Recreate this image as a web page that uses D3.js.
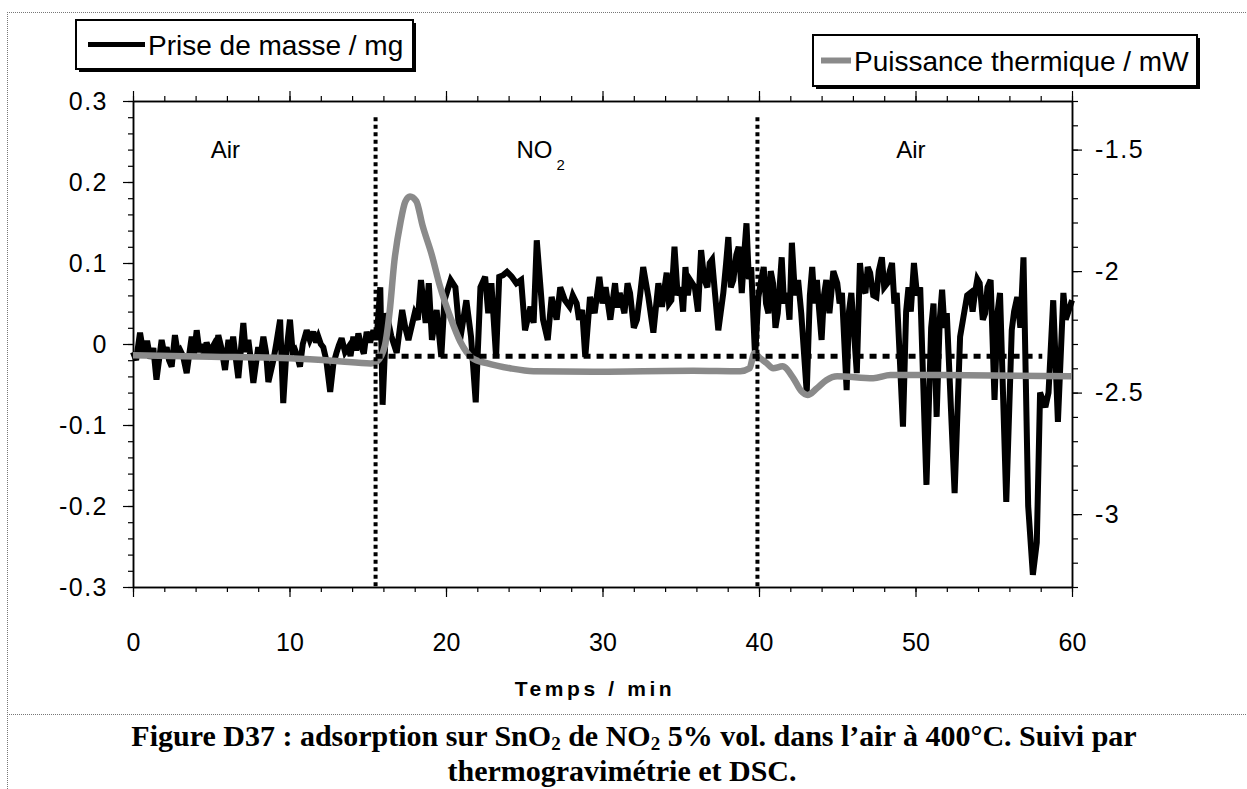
<!DOCTYPE html>
<html>
<head>
<meta charset="utf-8">
<script src="https://cdn.jsdelivr.net/npm/d3@7"></script>
<style>
body { margin: 0; background: #fff; }
svg { display: block; }
</style>
</head>
<body>
<svg id="chart" width="1247" height="789" font-family='"Liberation Sans", Arial, sans-serif'></svg>
<script>
// mass gain (left axis, mg): [time min, value]
const massSeries = [
  [0.0,-0.010],[0.2,-0.020],[0.45,0.014],[0.7,-0.015],[0.9,0.004],[1.1,-0.018],[1.3,-0.005],[1.5,-0.044],
  [1.83,0.005],[2.0,-0.012],[2.15,-0.004],[2.3,-0.020],[2.47,-0.028],[2.68,0.011],[2.85,-0.010],[3.0,-0.007],
  [3.2,-0.015],[3.43,-0.036],[3.75,0.009],[3.9,-0.012],[4.07,0.017],[4.25,-0.010],[4.4,0.000],[4.55,-0.015],
  [4.7,0.002],[4.9,-0.010],[5.13,-0.002],[5.3,-0.018],[5.45,0.011],[5.65,-0.005],[5.88,-0.032],[6.1,0.005],
  [6.25,-0.012],[6.4,0.009],[6.55,-0.015],[6.73,-0.042],[7.05,0.026],[7.2,-0.010],[7.37,0.005],[7.52,-0.018],
  [7.69,-0.048],[8.0,-0.004],[8.15,-0.015],[8.33,0.009],[8.5,-0.010],[8.65,-0.047],[8.97,-0.020],[9.15,0.000],
  [9.4,0.030],[9.6,-0.073],[9.8,-0.010],[10.03,0.030],[10.2,-0.010],[10.35,-0.007],[10.5,-0.015],[10.67,-0.028],
  [10.85,0.000],[11.1,0.017],[11.3,0.005],[11.52,0.015],[11.7,0.002],[11.84,0.009],[12.0,0.000],[12.16,-0.004],
  [12.35,-0.020],[12.6,-0.059],[12.8,-0.025],[13.0,-0.011],[13.15,-0.002],[13.33,0.007],[13.55,-0.010],[13.76,-0.004],
  [13.9,-0.015],[14.08,0.009],[14.25,-0.008],[14.4,0.013],[14.6,-0.004],[14.75,-0.012],[14.93,0.015],[15.15,0.002],
  [15.36,0.017],[15.5,0.005],[15.62,0.020],[15.8,0.070],[15.95,-0.075],[16.2,0.038],[16.5,0.010],[16.85,-0.011],
  [17.2,0.042],[17.4,0.020],[17.6,0.005],[18.0,0.038],[18.2,0.030],[18.4,0.079],[18.7,0.026],[18.9,0.075],
  [19.1,0.005],[19.4,0.042],[19.7,-0.016],[19.9,0.054],[20.3,0.079],[20.6,0.070],[20.9,0.005],[21.3,0.054],
  [21.6,0.009],[21.9,-0.072],[22.2,0.070],[22.5,0.083],[22.7,0.038],[22.9,0.075],[23.2,-0.016],[23.4,0.083],
  [23.65,0.085],[23.9,0.089],[24.2,0.083],[24.5,0.075],[24.8,0.079],[25.05,0.017],[25.4,0.046],[25.6,0.026],
  [25.8,0.128],[26.0,0.079],[26.2,0.030],[26.5,0.005],[26.75,0.058],[27.07,0.030],[27.3,0.070],[27.6,0.054],
  [27.9,0.046],[28.1,0.060],[28.35,0.050],[28.5,0.030],[28.7,0.042],[28.9,-0.016],[29.2,0.058],[29.5,0.038],
  [29.8,0.083],[30.0,0.050],[30.2,0.070],[30.5,0.030],[30.8,0.075],[30.95,0.045],[31.1,0.063],[31.4,0.038],
  [31.6,0.075],[31.76,0.063],[32.0,0.020],[32.2,0.030],[32.4,0.060],[32.6,0.095],[32.93,0.058],[33.25,0.014],
  [33.57,0.075],[33.8,0.046],[34.1,0.088],[34.25,0.050],[34.4,0.054],[34.6,0.120],[34.8,0.060],[35.0,0.070],
  [35.15,0.040],[35.3,0.095],[35.45,0.060],[35.6,0.079],[35.9,0.070],[36.1,0.040],[36.3,0.116],[36.5,0.080],
  [36.7,0.070],[36.85,0.100],[37.0,0.104],[37.2,0.060],[37.4,0.017],[37.72,0.063],[37.9,0.100],[38.04,0.132],
  [38.2,0.070],[38.36,0.079],[38.55,0.110],[38.7,0.120],[38.9,0.063],[39.05,0.110],[39.2,0.149],[39.35,0.080],
  [39.5,0.095],[39.75,-0.016],[39.96,0.058],[40.15,0.080],[40.3,0.095],[40.45,0.050],[40.6,0.038],[40.75,0.090],
  [40.9,0.075],[41.05,0.020],[41.2,0.038],[41.45,0.107],[41.6,0.050],[41.8,0.063],[41.95,0.030],[42.1,0.125],
  [42.3,0.060],[42.5,0.079],[42.7,0.038],[43.05,-0.060],[43.25,0.060],[43.4,0.095],[43.55,0.050],[43.7,0.079],
  [43.85,0.040],[44.0,0.005],[44.15,0.060],[44.3,0.079],[44.5,0.038],[44.75,0.090],[45.0,0.075],[45.15,0.050],
  [45.3,0.063],[45.6,-0.057],[45.75,0.040],[45.9,0.063],[46.05,0.020],[46.25,-0.036],[46.45,0.100],[46.6,0.070],
  [46.8,0.063],[46.95,0.095],[47.1,0.088],[47.3,0.060],[47.5,0.058],[47.65,0.090],[47.85,0.107],[48.0,0.070],
  [48.2,0.075],[48.35,0.090],[48.5,0.100],[48.65,0.050],[48.8,0.063],[49.2,-0.102],[49.4,0.040],[49.55,0.070],
  [49.7,0.040],[49.9,0.100],[50.1,0.060],[50.3,0.070],[50.7,-0.174],[51.0,0.020],[51.15,0.050],[51.35,-0.090],
  [51.55,0.030],[51.7,0.067],[51.85,0.020],[52.0,0.038],[52.5,-0.184],[52.85,0.009],[53.06,0.033],[53.3,0.060],
  [53.5,0.063],[53.65,0.040],[53.8,0.063],[53.95,0.080],[54.1,0.075],[54.3,0.030],[54.45,0.038],[54.6,0.070],
  [54.8,0.079],[55.05,-0.069],[55.25,0.040],[55.4,0.063],[55.8,-0.195],[56.15,0.017],[56.3,0.040],[56.5,0.058],
  [56.7,0.020],[56.9,0.107],[57.2,-0.200],[57.5,-0.285],[57.75,-0.245],[57.96,-0.060],[58.3,-0.078],[58.5,-0.060],
  [58.8,0.054],[59.1,-0.096],[59.45,0.063],[59.6,0.030],[59.8,0.042],[60.0,0.054]
];

// heat flow (right axis, mW): [time min, value]
const dscSeries = [
  [0,-2.346],[5,-2.352],[10,-2.359],[13,-2.37],[15.2,-2.38],[15.6,-2.371],[16.1,-2.305],[16.4,-2.166],
  [16.7,-1.96],[17.1,-1.796],[17.4,-1.714],[17.7,-1.693],[18.1,-1.712],[18.5,-1.812],[19.1,-1.935],[19.6,-2.059],
  [20.3,-2.194],[20.9,-2.289],[21.7,-2.359],[22.6,-2.379],[24.1,-2.40],[25.6,-2.412],[29.4,-2.414],[35.8,-2.41],
  [38.8,-2.412],[39.4,-2.40],[39.7,-2.338],[40.1,-2.36],[40.5,-2.379],[40.9,-2.40],[41.5,-2.392],[42.2,-2.441],
  [42.7,-2.494],[43.1,-2.51],[43.7,-2.482],[44.3,-2.449],[45.0,-2.433],[47.3,-2.441],[48.4,-2.428],[51.6,-2.428],
  [60,-2.433]
];

const gasSwitchTimes = [15.5, 39.9];
const dscBaseline = -2.35;
const dscBaselineSpan = [15.5, 58.1];
const phaseLabels = ['Air', 'NO', 'Air'];
const phaseTimes = [5.9, 24.5, 49.7];

const xTicks = [0, 10, 20, 30, 40, 50, 60];
const yLeftTicks = [-0.3, -0.2, -0.1, 0, 0.1, 0.2, 0.3];
const yRightTicks = [-3, -2.5, -2, -1.5];

const svg = d3.select('#chart');
const plot = { left: 133, top: 101, right: 1072, bottom: 587 };

const x = d3.scaleLinear().domain([0, 60]).range([plot.left, plot.right]);
const yL = d3.scaleLinear().domain([-0.3, 0.3]).range([plot.bottom, plot.top]);
const yR = d3.scaleLinear().domain([-3.3, -1.3]).range([plot.bottom, plot.top]);

// page frame
const frame = svg.append('g')
    .attr('fill', 'none')
    .attr('stroke', '#777')
    .attr('stroke-width', 1)
    .attr('stroke-dasharray', '1,1');
frame.append('line').attr('x1', 7).attr('x2', 1247).attr('y1', 12.5).attr('y2', 12.5);
frame.append('line').attr('x1', 7.5).attr('x2', 7.5).attr('y1', 12).attr('y2', 789);
frame.append('line').attr('x1', 7).attr('x2', 1247).attr('y1', 714.5).attr('y2', 714.5);

const fmt = d => (Math.abs(d) < 1e-9 ? '0' : String(+d.toFixed(2)));

function styleAxis(g) {
    g.selectAll('.domain').attr('stroke', '#000').attr('stroke-width', 1.5);
    g.selectAll('.tick line').attr('stroke', '#000').attr('stroke-width', 1.2);
    g.selectAll('text').attr('fill', '#000').attr('font-size', 25)
        .attr('font-family', '"Liberation Sans", Arial, sans-serif');
}

// minor ticks
const minorX = d3.range(0, 61, 2);
const minorYL = d3.range(-30, 31, 2).map(d => d / 100);
const minorYR = d3.range(-33, -12, 1).map(d => d / 10);

svg.append('g').attr('transform', `translate(0,${plot.bottom})`)
    .call(d3.axisBottom(x).tickValues(minorX).tickFormat('').tickSize(5).tickSizeOuter(0)).call(styleAxis);
svg.append('g').attr('transform', `translate(0,${plot.top})`)
    .call(d3.axisTop(x).tickValues(minorX).tickFormat('').tickSize(5).tickSizeOuter(0)).call(styleAxis);
svg.append('g').attr('transform', `translate(${plot.left},0)`)
    .call(d3.axisLeft(yL).tickValues(minorYL).tickFormat('').tickSize(5).tickSizeOuter(0)).call(styleAxis);
svg.append('g').attr('transform', `translate(${plot.right},0)`)
    .call(d3.axisRight(yR).tickValues(minorYR).tickFormat('').tickSize(6).tickSizeOuter(0)).call(styleAxis);

// major ticks and labels
svg.append('g').attr('transform', `translate(0,${plot.bottom})`)
    .call(d3.axisBottom(x).tickValues(xTicks).tickFormat(d3.format('d')).tickSize(10).tickPadding(36).tickSizeOuter(0))
    .call(styleAxis);
svg.append('g').attr('transform', `translate(0,${plot.top})`)
    .call(d3.axisTop(x).tickValues(xTicks).tickFormat('').tickSize(10).tickSizeOuter(0))
    .call(styleAxis);
svg.append('g').attr('transform', `translate(${plot.left},0)`)
    .call(d3.axisLeft(yL).tickValues(yLeftTicks).tickFormat(fmt).tickSize(10).tickPadding(15).tickSizeOuter(0))
    .call(styleAxis)
    .selectAll('text').attr('letter-spacing', 1.5);
svg.append('g').attr('transform', `translate(${plot.right},0)`)
    .call(d3.axisRight(yR).tickValues(yRightTicks).tickFormat(fmt).tickSize(10).tickPadding(13).tickSizeOuter(0))
    .call(styleAxis)
    .selectAll('text').attr('letter-spacing', 1.5);

svg.append('text')
    .attr('x', 595).attr('y', 696)
    .attr('text-anchor', 'middle')
    .attr('font-size', 21).attr('font-weight', 'bold')
    .attr('letter-spacing', 3.6)
    .text('Temps / min');

// data lines
const massLine = d3.line().x(d => x(d[0])).y(d => yL(d[1]));
svg.append('path')
    .datum(massSeries)
    .attr('fill', 'none')
    .attr('stroke', '#000')
    .attr('stroke-width', 6)
    .attr('stroke-linejoin', 'miter')
    .attr('stroke-miterlimit', 3)
    .attr('d', massLine);

const dscLine = d3.line().x(d => x(d[0])).y(d => yR(d[1])).curve(d3.curveMonotoneX);
svg.append('path')
    .datum(dscSeries)
    .attr('fill', 'none')
    .attr('stroke', '#8a8a8a')
    .attr('stroke-width', 6.5)
    .attr('stroke-linejoin', 'round')
    .attr('d', dscLine);

// gas switch markers and DSC baseline
svg.append('g').selectAll('line')
    .data(gasSwitchTimes)
    .enter()
    .append('line')
    .attr('x1', d => x(d)).attr('x2', d => x(d))
    .attr('y1', yL(0.28)).attr('y2', plot.bottom)
    .attr('stroke', '#000')
    .attr('stroke-width', 4)
    .attr('stroke-dasharray', '4,3.5');

svg.append('line')
    .attr('x1', x(dscBaselineSpan[0])).attr('x2', x(dscBaselineSpan[1]))
    .attr('y1', yR(dscBaseline)).attr('y2', yR(dscBaseline))
    .attr('stroke', '#000')
    .attr('stroke-width', 5)
    .attr('stroke-dasharray', '7,6');

// phase labels
const phases = svg.append('g').attr('font-size', 24).attr('fill', '#000');
phaseLabels.forEach((label, i) => {
    const t = phases.append('text')
        .attr('x', x(phaseTimes[i]))
        .attr('y', yL(0.23))
        .attr('text-anchor', i === 1 ? 'start' : 'middle')
        .text(label);
    if (label === 'NO') {
        t.append('tspan').attr('dx', 4).attr('dy', 12).attr('font-size', 15).text('2');
    }
});

// legends
function legend(box, symbol, label) {
    const g = svg.append('g');
    g.append('rect')
        .attr('x', box.x + 3).attr('y', box.y + 3)
        .attr('width', box.w).attr('height', box.h)
        .attr('fill', '#000');
    g.append('rect')
        .attr('x', box.x).attr('y', box.y)
        .attr('width', box.w).attr('height', box.h)
        .attr('fill', '#fff')
        .attr('stroke', '#000')
        .attr('stroke-width', 2);
    g.append('line')
        .attr('x1', box.x + symbol.x0).attr('x2', box.x + symbol.x1)
        .attr('y1', box.y + box.h / 2).attr('y2', box.y + box.h / 2)
        .attr('stroke', symbol.color)
        .attr('stroke-width', symbol.width);
    g.append('text')
        .attr('x', box.x + symbol.x1 + 3)
        .attr('y', box.y + box.h / 2 + 10)
        .attr('font-size', 28)
        .attr('fill', '#000')
        .text(label);
}

legend({ x: 76, y: 20, w: 337, h: 49 }, { x0: 12, x1: 69, color: '#000', width: 5 }, 'Prise de masse / mg');
legend({ x: 813, y: 35, w: 384, h: 51 }, { x0: 8, x1: 38, color: '#8a8a8a', width: 6 }, 'Puissance thermique / mW');

// caption
const caption = svg.append('g')
    .attr('font-family', '"Liberation Serif", "Times New Roman", serif')
    .attr('font-weight', 'bold')
    .attr('font-size', 30)
    .attr('text-anchor', 'middle')
    .attr('fill', '#000');
const line1 = caption.append('text').attr('x', 634).attr('y', 746);
line1.append('tspan').text('Figure D37 : adsorption sur SnO');
line1.append('tspan').attr('font-size', 19).attr('dy', 4).text('2');
line1.append('tspan').attr('dy', -4).text(' de NO');
line1.append('tspan').attr('font-size', 19).attr('dy', 4).text('2');
line1.append('tspan').attr('dy', -4).text(' 5% vol. dans l\u2019air à 400°C. Suivi par');
caption.append('text').attr('x', 622).attr('y', 781).text('thermogravimétrie et DSC.');
</script>
</body>
</html>
